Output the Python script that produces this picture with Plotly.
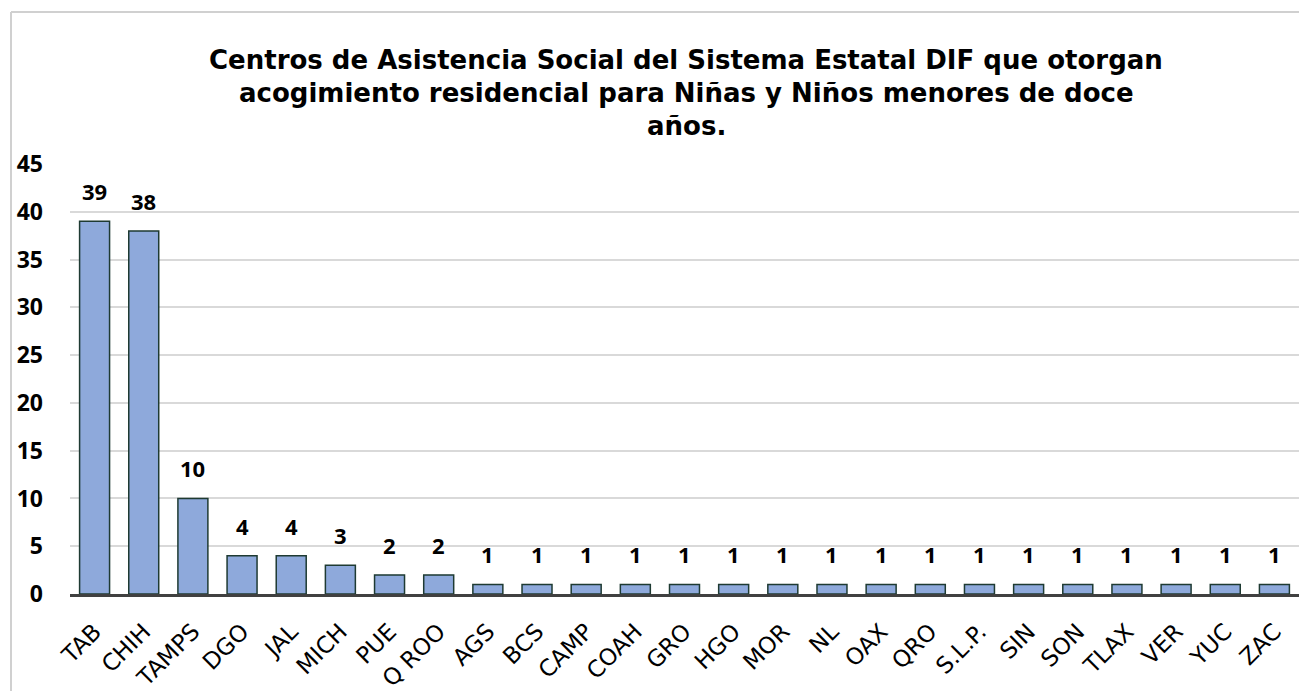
import plotly.graph_objects as go

categories = ["TAB", "CHIH", "TAMPS", "DGO", "JAL", "MICH", "PUE", "Q ROO", "AGS", "BCS",
              "CAMP", "COAH", "GRO", "HGO", "MOR", "NL", "OAX", "QRO", "S.L.P.", "SIN",
              "SON", "TLAX", "VER", "YUC", "ZAC"]
values = [39, 38, 10, 4, 4, 3, 2, 2, 1, 1, 1, 1, 1, 1, 1, 1, 1, 1, 1, 1, 1, 1, 1, 1, 1]
y_ticks = [0, 5, 10, 15, 20, 25, 30, 35, 40, 45]

title_lines = ["Centros de Asistencia Social del Sistema Estatal DIF que otorgan",
               "acogimiento residencial para Niñas y Niños menores de doce",
               "años."]

W, H = 1299, 691
L, R, T, B = 70, 0, 164, 97

fig = go.Figure()
fig.add_trace(go.Bar(
    x=categories, y=values,
    marker=dict(color="#8EA9DB", line=dict(color="#1E3A32", width=1.5)),
    width=0.61,
    hoverinfo="x+y",
))

annotations = []
for c, v in zip(categories, values):
    annotations.append(dict(
        x=c, y=v, xref="x", yref="y", text=f"<b>{v}</b>", showarrow=False,
        yanchor="bottom", yshift=13,
        font=dict(family="Open Sans", size=22, color="#000000"),
    ))

pw, ph = W - L - R, H - T - B
for i, line in enumerate(title_lines):
    annotations.append(dict(
        x=(686 - L) / pw, y=(594 - (60 + 33 * i)) / ph, xref="paper", yref="paper",
        text=f"<b>{line}</b>", showarrow=False, xanchor="center", yanchor="middle",
        align="center", font=dict(family="DejaVu Sans", size=26, color="#000000"),
    ))

fig.update_layout(
    width=W, height=H,
    margin=dict(l=L, r=R, t=T, b=B, pad=0),
    paper_bgcolor="#FFFFFF", plot_bgcolor="#FFFFFF",
    showlegend=False,
    annotations=annotations,
    shapes=[
        dict(type="line", xref="paper", yref="paper",
             x0=(11 - L) / pw, x1=(11 - L) / pw, y0=(594 - 12) / ph, y1=(594 - 700) / ph,
             line=dict(color="#D0D0D0", width=2)),
        dict(type="line", xref="paper", yref="paper",
             x0=(11 - L) / pw, x1=1.01, y0=(594 - 12) / ph, y1=(594 - 12) / ph,
             line=dict(color="#D0D0D0", width=2)),
    ],
    xaxis=dict(
        tickangle=-45, showgrid=False, ticks="", automargin=False,
        showline=True, linecolor="#404040", linewidth=3,
        tickfont=dict(family="DejaVu Sans", size=23, color="#000000"),
        ticklabelstandoff=12,
        range=[-0.5, len(categories) - 0.5],
    ),
    yaxis=dict(
        range=[0, 45], tickvals=y_ticks, ticktext=[f"<b>{t}</b>" for t in y_ticks],
        showgrid=True, gridcolor="#D9D9D9", gridwidth=2, automargin=False,
        zeroline=False, showline=False, ticks="",
        tickfont=dict(family="Open Sans", size=23, color="#000000"),
        ticklabelstandoff=26,
    ),
)

fig.write_html("out.html", config={"displayModeBar": False},
               post_script="document.body.style.margin='0';document.body.style.overflow='hidden';")
